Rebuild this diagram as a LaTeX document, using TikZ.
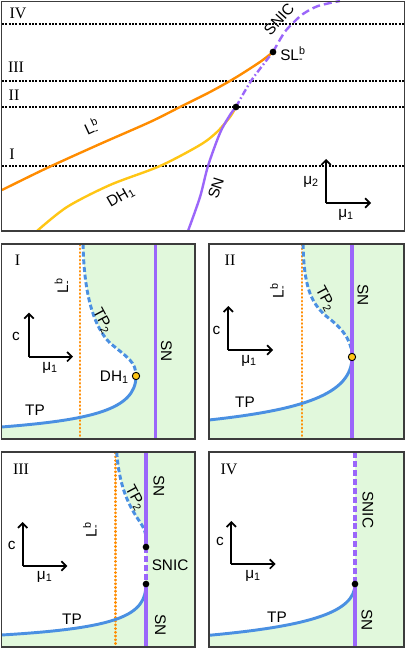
\documentclass[tikz,border=0pt]{standalone}
\usepackage{fontspec}
\setmainfont{Liberation Sans}
\newfontfamily\romfont{Liberation Serif}
\usetikzlibrary{arrows.meta}
\definecolor{lorange}{RGB}{255,140,0}
\definecolor{dhyellow}{RGB}{255,198,20}
\definecolor{snpurple}{RGB}{155,102,250}
\definecolor{tpblue}{RGB}{74,144,226}
\definecolor{fillgreen}{RGB}{225,248,220}
\definecolor{framegray}{RGB}{60,60,60}
\newcommand\Lb{L\rlap{\textsuperscript{b}}\textsubscript{-}}
\begin{document}
\begin{tikzpicture}[x=0.75pt,y=-0.75pt]
\tikzset{
 lbl/.style={inner sep=0pt, font=\fontsize{11.5}{13}\selectfont},
 rom/.style={inner sep=0pt, font=\romfont\fontsize{12}{14}\selectfont},
 dotblack/.style={black, line width=1.6pt, dash pattern=on 1.4pt off 1.1pt},
 ldot/.style={lorange, line width=2.1pt, line cap=round, dash pattern=on 0.2pt off 2.6pt},
 topcurve/.style={line width=1.8pt},
 tpline/.style={tpblue, line width=2.2pt},
 tpdash/.style={tpline, dash pattern=on 3.75pt off 2pt},
 snline/.style={snpurple, line width=2.3pt},
 sndash/.style={snline, dash pattern=on 4.5pt off 2.2pt},
 axisarrow/.style={black, line width=1.3pt, -{Straight Barb[length=3.5pt,width=7pt]}},
 framebox/.style={draw=framegray, line width=1pt},
 bdot/.style={fill=black, circle, inner sep=0pt, minimum size=5pt},
 ydot/.style={fill=dhyellow, draw=black, line width=0.7pt, circle, inner sep=0pt, minimum size=5.5pt},
}
\useasboundingbox (0,0) rectangle (407,649);
\fill[white] (0,0) rectangle (407,649);

% ================= top panel =================
\coordinate (dIVa) at (2,24);  \coordinate (dIVb) at (404,24);
\coordinate (dIIIa) at (2,80.7); \coordinate (dIIIb) at (404,80.7);
\coordinate (dIIa) at (2,107); \coordinate (dIIb) at (404,107);
\coordinate (dIa) at (2,166); \coordinate (dIb) at (404,166);
\draw[dotblack] (dIVa) -- (dIVb);
\draw[dotblack] (dIIIa) -- (dIIIb);
\draw[dotblack] (dIIa) -- (dIIb);
\draw[dotblack] (dIa) -- (dIb);

\draw[topcurve, dhyellow] plot[smooth] coordinates {(37,231) (67,207) (110,185) (160,166) (200,145) (217,132) (230,117) (236,107)};
\draw[topcurve, lorange] plot[smooth] coordinates {(2,190) (47,168) (100,144) (150,122) (180,107) (210,92) (235,78) (260,62) (273,52)};
\draw[topcurve, snpurple] plot[smooth] coordinates {(188,231) (200,197) (208,166) (220,133) (230,115) (236,107)};
\draw[topcurve, snpurple, dash pattern=on 5pt off 2pt on 1.2pt off 2pt] plot[smooth] coordinates {(236,107) (251,81) (273,52)};
\draw[topcurve, snpurple, dash pattern=on 6pt off 3pt] plot[smooth] coordinates {(273,52) (284,33) (293,23) (303,14) (318,6) (340,1)};

\node[bdot] (slb) at (273,52) {};
\node[bdot] (junc) at (236,107) {};

\node[rom] (tIV) at (18,13) {IV};
\node[rom] (tIII) at (16,67) {III};
\node[rom] (tII) at (14,95) {II};
\node[rom] (tI) at (12,154) {I};
\node[lbl, rotate=48] (tSNIC) at (279,19) {SNIC};
\node[lbl, anchor=west] (tSL) at (280,55) {S\Lb};
\node[lbl, rotate=25] (tL) at (91,128) {\Lb};
\node[lbl, rotate=30] (tDH) at (121,197) {DH\textsubscript{1}};
\node[lbl, rotate=72] (tSN) at (216,188) {SN};

\coordinate (oT) at (326,203);
\coordinate (oTy) at (326,159);
\coordinate (oTx) at (371,203);
\draw[axisarrow] (oT) -- (oTy);
\draw[axisarrow] (oT) -- (oTx);
\node[lbl] (tmu2) at (311,182) {μ\textsubscript{2}};
\node[lbl] (tmu1) at (346,215) {μ\textsubscript{1}};

\draw[framebox] (1.5,1.5) rectangle (404.5,231);

% ================= panel I =================
\fill[fillgreen] (1.5,244) rectangle (195,439);
\fill[white] (1.5,244) -- (83,244) .. controls (84,290) and (92,325) .. (110,343) .. controls (128,358) and (136,362) .. (136,376) .. controls (136,410) and (90,420) .. (1.5,427) -- cycle;
\coordinate (oIt) at (80,245); \coordinate (oIb) at (80,439);
\draw[ldot] (oIt) -- (oIb);
\coordinate (dhIc) at (136,376);
\draw[tpdash] (83,244) .. controls (84,290) and (92,325) .. (110,343) .. controls (128,358) and (136,362) .. (dhIc);
\draw[tpline] (dhIc) .. controls (136,410) and (90,420) .. (1.5,427);
\coordinate (snIt) at (155.7,244); \coordinate (snIb) at (155.7,439);
\draw[snline] (snIt) -- (snIb);
\node[ydot] (dhI) at (dhIc) {};
\node[rom] (pI) at (17.5,260.5) {I};
\node[lbl, rotate=90] (LI) at (62.5,287) {\Lb};
\node[lbl, rotate=-62] (TP2I) at (102.5,321) {TP\textsubscript{2}};
\node[lbl, rotate=-90] (SNI) at (166.5,351) {SN};
\node[lbl, anchor=east] (DHI) at (129,377) {DH\textsubscript{1}};
\node[lbl] (TPI) at (35,410) {TP};
\coordinate (oI) at (29,356.7); \coordinate (oIy) at (29,312.7); \coordinate (oIx) at (73,356.7);
\draw[axisarrow] (oI) -- (oIy);
\draw[axisarrow] (oI) -- (oIx);
\node[lbl] (cI) at (16,336) {c};
\node[lbl] (muI) at (50,367.5) {μ\textsubscript{1}};
\draw[framebox] (1.5,244) rectangle (195,439);

% ================= panel II =================
\fill[fillgreen] (209,244) rectangle (404,439);
\fill[white] (209,244) -- (303,244) .. controls (304,285) and (310,302) .. (326,316) .. controls (342,328) and (352,340) .. (352,357) .. controls (352,395) and (300,410) .. (209,420) -- cycle;
\coordinate (oIIt) at (302,245); \coordinate (oIIb) at (302,439);
\draw[ldot] (oIIt) -- (oIIb);
\coordinate (dhIIc) at (352,357);
\draw[tpdash] (303,244) .. controls (304,285) and (310,302) .. (326,316) .. controls (342,328) and (352,340) .. (dhIIc);
\draw[tpline] (dhIIc) .. controls (352,395) and (300,410) .. (209,420);
\coordinate (snIIt) at (352,244); \coordinate (snIIb) at (352,439);
\draw[snline] (snIIt) -- (snIIb);
\node[ydot] (dhII) at (dhIIc) {};
\node[rom] (pII) at (230,260.5) {II};
\node[lbl, rotate=90] (LII) at (278,292) {\Lb};
\node[lbl, rotate=-62] (TP2II) at (325,299) {TP\textsubscript{2}};
\node[lbl, rotate=-90] (SNII) at (363,295) {SN};
\node[lbl] (TPII) at (245,402.5) {TP};
\coordinate (oII) at (228.3,350); \coordinate (oIIy) at (228.3,306); \coordinate (oIIx) at (273,350);
\draw[axisarrow] (oII) -- (oIIy);
\draw[axisarrow] (oII) -- (oIIx);
\node[lbl] (cII) at (216.5,330) {c};
\node[lbl] (muII) at (249,361) {μ\textsubscript{1}};
\draw[framebox] (209,244) rectangle (404,439);

% ================= panel III =================
\fill[fillgreen] (1.5,452) rectangle (195,647);
\fill[white] (1.5,452) -- (116.7,452) .. controls (119,485) and (128,505) .. (140,522) .. controls (144,528) and (146,533) .. (146,538) -- (146,584) .. controls (146,615) and (120,628) .. (1.5,635) -- cycle;
\coordinate (oIIIt) at (115.5,453); \coordinate (oIIIb) at (115.5,647);
\draw[ldot] (oIIIt) -- (oIIIb);
\coordinate (dA) at (146,547); \coordinate (dB) at (146,584);
\draw[tpdash] (116.7,452) .. controls (119,485) and (128,505) .. (140,522) .. controls (144,528) and (146,533) .. (146,538) -- (dA);
\draw[tpline] (dB) .. controls (146,615) and (120,628) .. (1.5,635);
\coordinate (snIIIt) at (146,452); \coordinate (snIIIb) at (146,647);
\draw[snline] (snIIIt) -- (dA);
\draw[sndash] (dA) -- (dB);
\draw[snline] (dB) -- (snIIIb);
\node[bdot] (dotA) at (dA) {};
\node[bdot] (dotB) at (dB) {};
\node[rom] (pIII) at (21,469) {III};
\node[lbl, rotate=-90] (SNIIIa) at (159,486) {SN};
\node[lbl, rotate=-62] (TP2III) at (135,498) {TP\textsubscript{2}};
\node[lbl, rotate=90] (LIII) at (91,531) {\Lb};
\node[lbl, anchor=west] (SNICIII) at (151.5,565) {SNIC};
\node[lbl, rotate=-90] (SNIIIb) at (160.5,625) {SN};
\node[lbl] (TPIII) at (72,619) {TP};
\coordinate (oIII) at (22.7,566); \coordinate (oIIIy) at (22.7,522); \coordinate (oIIIx) at (67.3,566);
\draw[axisarrow] (oIII) -- (oIIIy);
\draw[axisarrow] (oIII) -- (oIIIx);
\node[lbl] (cIII) at (11.7,545.5) {c};
\node[lbl] (muIII) at (44.7,577) {μ\textsubscript{1}};
\draw[framebox] (1.5,452) rectangle (195,647);

% ================= panel IV =================
\fill[fillgreen] (209,452) rectangle (404,647);
\fill[white] (209,452) -- (355,452) -- (355,584) .. controls (355,612) and (310,626) .. (209,635.3) -- cycle;
\coordinate (dC) at (355,584);
\coordinate (snIVt) at (355,452); \coordinate (snIVb) at (355,647);
\draw[tpline] (dC) .. controls (355,612) and (310,626) .. (209,635.3);
\draw[sndash] (snIVt) -- (dC);
\draw[snline] (dC) -- (snIVb);
\node[bdot] (dotC) at (dC) {};
\node[rom] (pIV) at (229,469) {IV};
\node[lbl, rotate=-90] (SNICIV) at (368,510) {SNIC};
\node[lbl, rotate=-90] (SNIV) at (367,620) {SN};
\node[lbl] (TPIV) at (277,617) {TP};
\coordinate (oIV) at (231.3,564); \coordinate (oIVy) at (231.3,521); \coordinate (oIVx) at (275.7,564);
\draw[axisarrow] (oIV) -- (oIVy);
\draw[axisarrow] (oIV) -- (oIVx);
\node[lbl] (cIV) at (220,541.7) {c};
\node[lbl] (muIV) at (253,576) {μ\textsubscript{1}};
\draw[framebox] (209,452) rectangle (404,647);
\end{tikzpicture}
\end{document}
